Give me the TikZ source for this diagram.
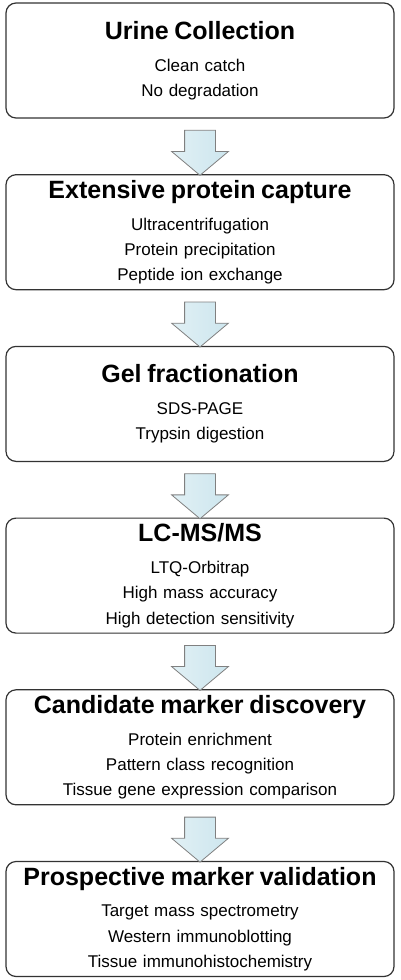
\documentclass[tikz,border=0pt]{standalone}
\usepackage{fontspec}
\setmainfont{Liberation Sans}
\usetikzlibrary{positioning,shapes.arrows,calc}

\definecolor{arrowblue}{RGB}{205,230,238}
\newcommand{\ttl}[1]{{\fontsize{25}{30}\selectfont\bfseries #1}\\[6.5pt]}

\tikzset{
  stepbox/.style={draw=black!80,line width=1.2pt,rounded corners=10pt,fill=white,
    minimum width=388pt,minimum height=115pt,text width=380pt,align=center,
    font=\fontsize{17}{25.3}\selectfont,inner sep=0pt},
  downarr/.style={single arrow,draw=black!50,line width=0.8pt,
    left color=arrowblue!60!white,right color=arrowblue,
    rotate=-90,minimum height=45pt,inner xsep=0pt,inner ysep=15pt,
    single arrow head extend=13pt,single arrow tip angle=100}
}

\begin{document}
\begin{tikzpicture}[x=1pt,y=1pt]
  \useasboundingbox (0,0) rectangle (400,-980);

  \node[stepbox] (urine) at (200,-60.5) {\ttl{Urine Collection}Clean catch\\No degradation};
  \node[stepbox,below=55.5pt of urine] (capture) {\ttl{Extensive protein capture}Ultracentrifugation\\Protein precipitation\\Peptide ion exchange};
  \node[stepbox,below=55.5pt of capture] (gel) {\ttl{Gel fractionation}SDS-PAGE\\Trypsin digestion};
  \node[stepbox,below=55.5pt of gel] (lcms) {\ttl{LC-MS/MS}LTQ-Orbitrap\\High mass accuracy\\High detection sensitivity};
  \node[stepbox,below=55.5pt of lcms] (disc) {\ttl{Candidate marker discovery}Protein enrichment\\Pattern class recognition\\Tissue gene expression comparison};
  \node[stepbox,below=55.5pt of disc] (valid) {\ttl{Prospective marker validation}Target mass spectrometry\\Western immunoblotting\\Tissue immunohistochemistry};

  % arrows between the steps
  \node[downarr] (a1) at ($(urine.south)!0.5!(capture.north)$) {};
  \node[downarr] (a2) at ($(capture.south)!0.5!(gel.north)$) {};
  \node[downarr] (a3) at ($(gel.south)!0.5!(lcms.north)$) {};
  \node[downarr] (a4) at ($(lcms.south)!0.5!(disc.north)$) {};
  \node[downarr] (a5) at ($(disc.south)!0.5!(valid.north)$) {};
\end{tikzpicture}
\end{document}
